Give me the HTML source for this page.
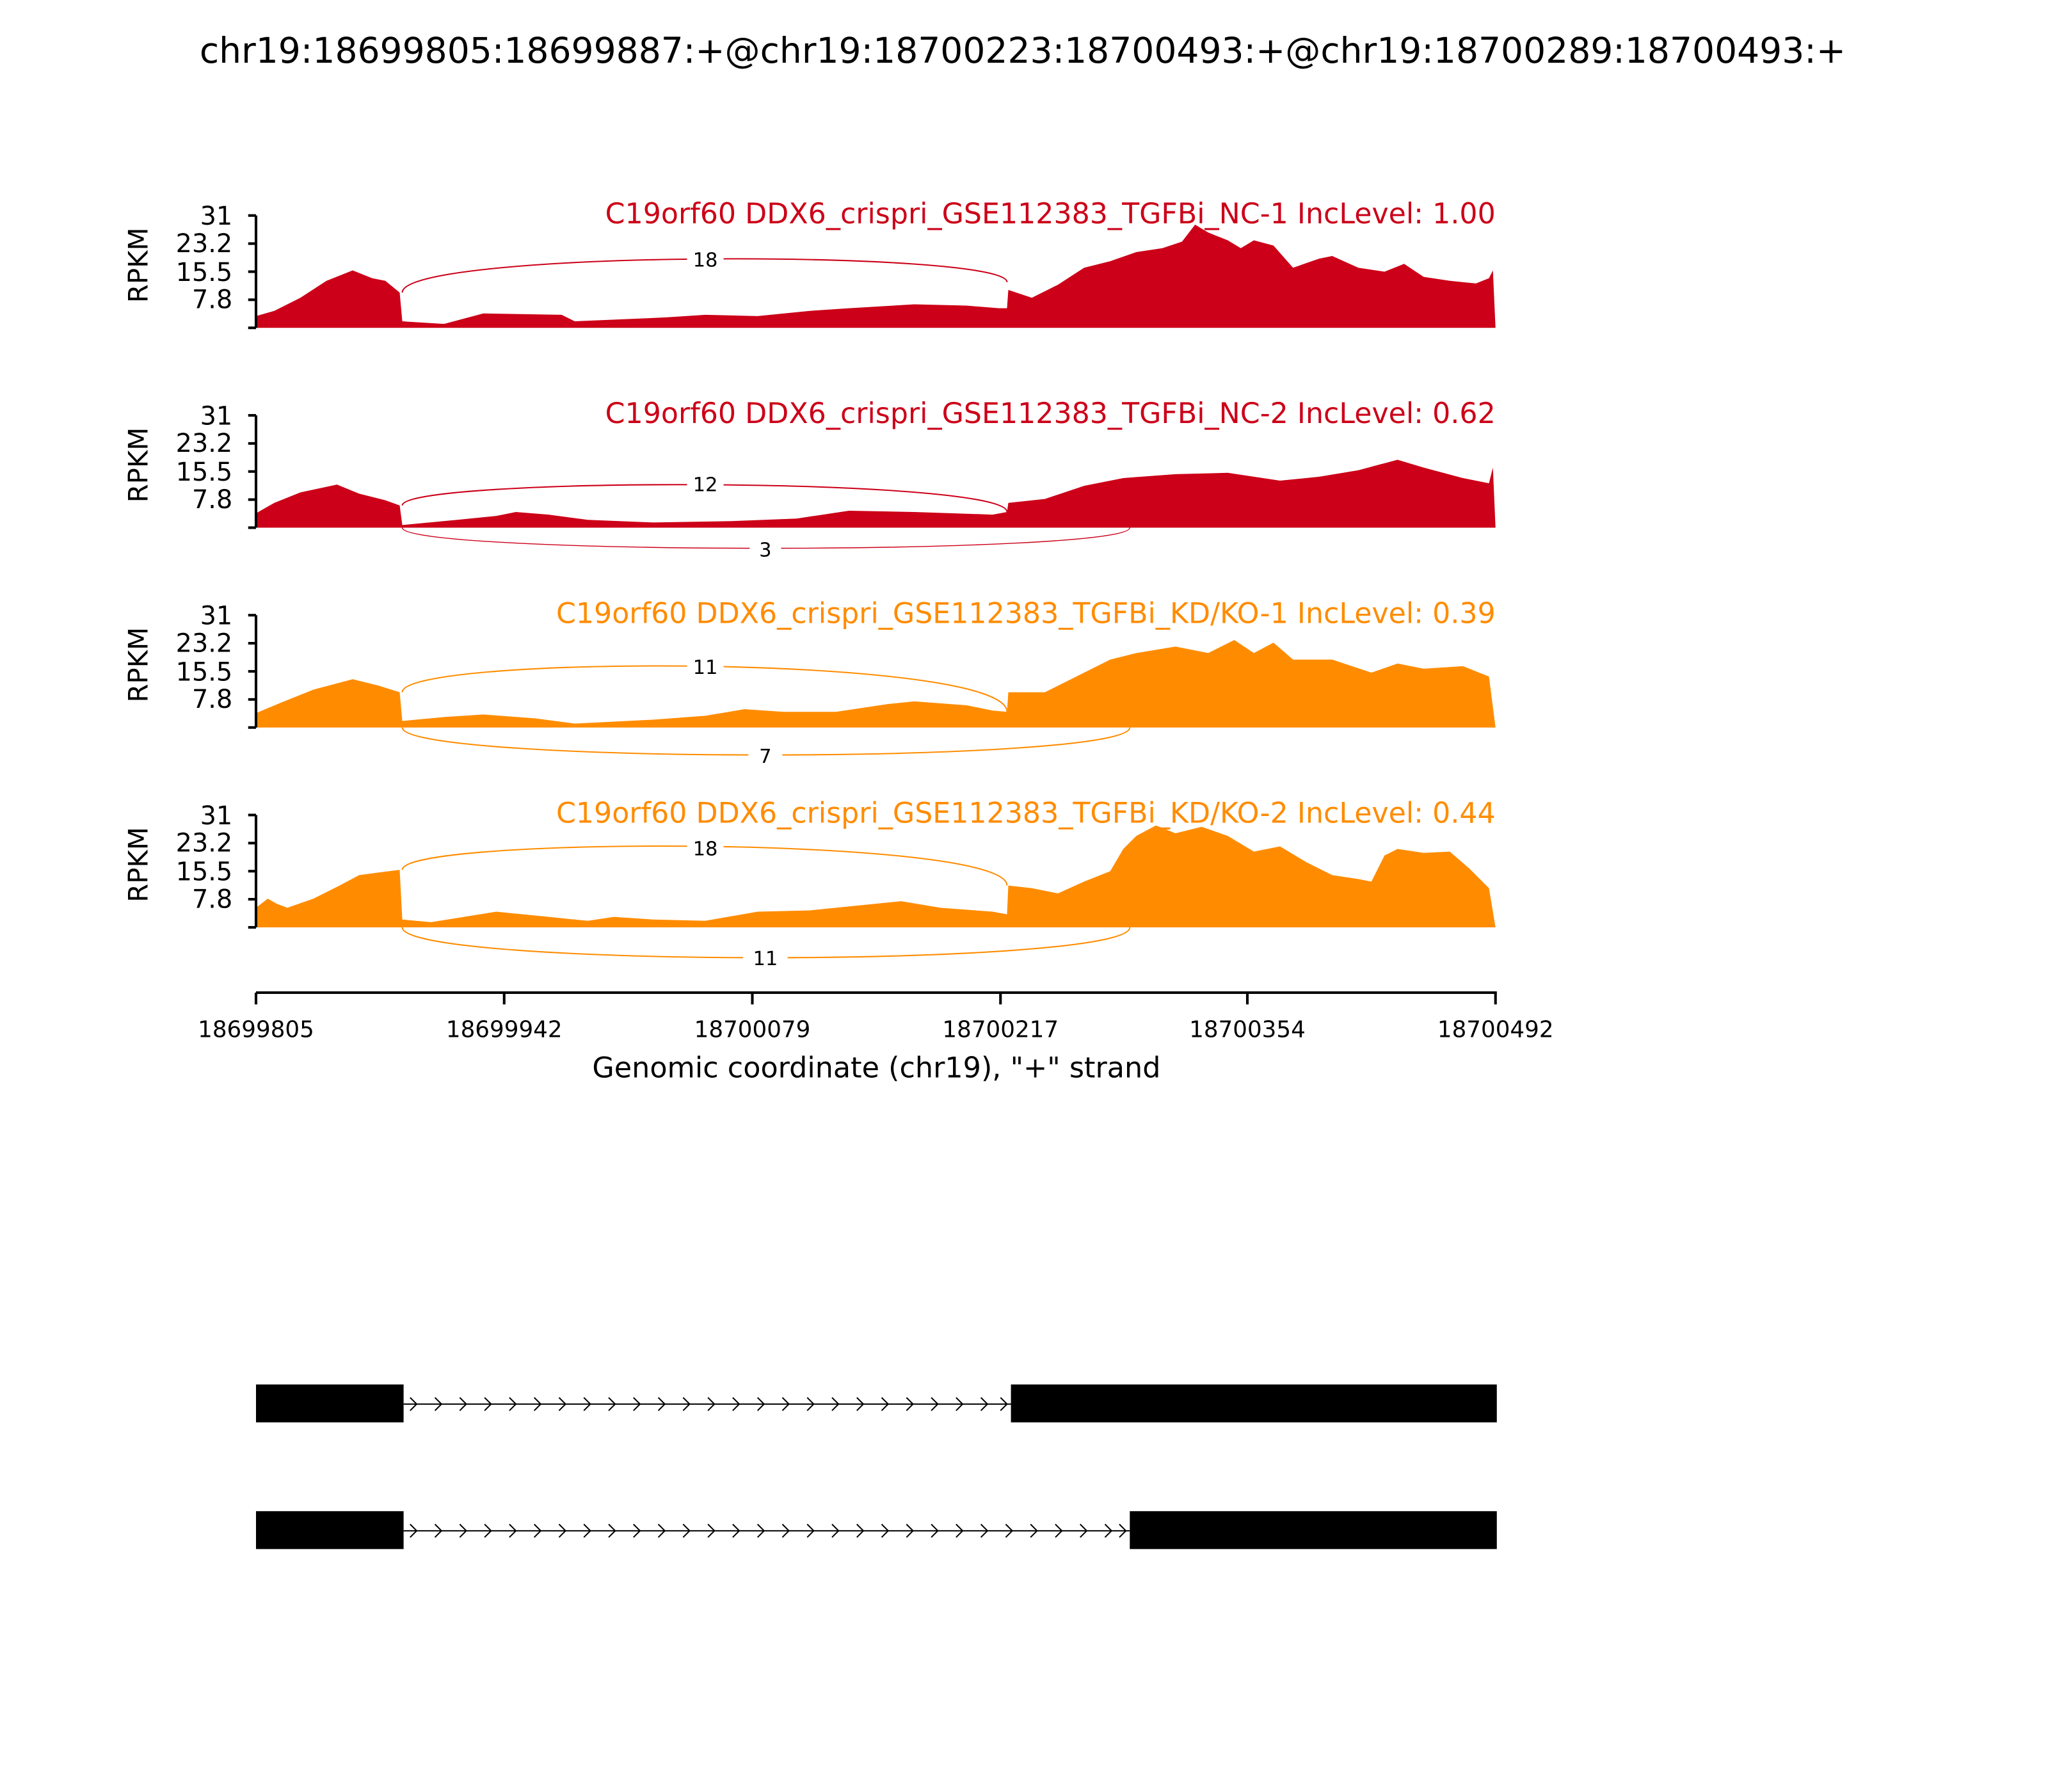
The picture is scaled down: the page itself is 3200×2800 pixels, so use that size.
<!DOCTYPE html>
<html><head><meta charset="utf-8"><style>
html,body{margin:0;padding:0;background:#fff;}
svg{display:block;}
text{font-family:"DejaVu Sans","Liberation Sans",sans-serif;}
</style></head><body>
<svg width="3200" height="2800" viewBox="0 0 1568 1372" xmlns="http://www.w3.org/2000/svg">
<rect width="1568" height="1372" fill="#fff"/>
<text x="783" y="48" font-size="27" text-anchor="middle">chr19:18699805:18699887:+@chr19:18700223:18700493:+@chr19:18700289:18700493:+</text>

<!-- Panel 1 -->
<g>
<polygon fill="#cc0018" points="196,251 196,242 210,238 230,228 250,215 270,207 285,213 295,215 306,224 308,246 340,248 370,240 430,241 440,246 510,243 540,241 580,242 620,238 650,236 700,233 740,234 765,236 771,236 772,222 790,228 810,218 830,205 850,200 870,193 890,190 905,185 915,172 925,178 940,184 950,190 960,184 975,188 990,205 1010,198 1020,196 1040,205 1060,208 1075,202 1090,212 1110,215 1130,217 1140,213 1143,207 1145,251"/>
<path d="M308,224 C308,191 771,191 771,216" fill="none" stroke="#cc0018" stroke-width="1"/>
<rect x="526" y="189" width="28" height="18" fill="#fff"/>
<text x="540" y="204" font-size="15" text-anchor="middle">18</text>
<text x="1145" y="171" font-size="21.7" fill="#cc0018" text-anchor="end">C19orf60 DDX6_crispri_GSE112383_TGFBi_NC-1 IncLevel: 1.00</text>
<g stroke="#000" stroke-width="2"><line x1="196" y1="165" x2="196" y2="251"/><line x1="190" y1="165" x2="196" y2="165"/><line x1="190" y1="186.5" x2="196" y2="186.5"/><line x1="190" y1="208" x2="196" y2="208"/><line x1="190" y1="229.5" x2="196" y2="229.5"/><line x1="190" y1="251" x2="196" y2="251"/></g>
<g font-size="19.5" text-anchor="end"><text x="178" y="172">31</text><text x="178" y="193">23.2</text><text x="178" y="215">15.5</text><text x="178" y="236">7.8</text></g>
<text transform="translate(113,203) rotate(-90)" font-size="20.5" text-anchor="middle">RPKM</text>
</g>

<!-- Panel 2 -->
<g>
<polygon fill="#cc0018" points="196,404 196,393 210,385 230,377 258,371 275,378 295,383 306,387 308,402 350,398 380,395 395,392 420,394 450,398 500,400 560,399 610,397 650,391 700,392 760,394 771,392 772,385 800,382 830,372 860,366 900,363 940,362 980,368 1010,365 1040,360 1070,352 1090,358 1120,366 1140,370 1143,358 1145,404"/>
<path d="M308,387 C308,365 771,365 771,392" fill="none" stroke="#cc0018" stroke-width="1"/>
<path d="M308,404 C308,425 865,425 865,404" fill="none" stroke="#cc0018" stroke-width="0.7"/>
<rect x="526" y="361" width="28" height="18" fill="#fff"/>
<text x="540" y="376" font-size="15" text-anchor="middle">12</text>
<rect x="574" y="411" width="24" height="18" fill="#fff"/>
<text x="586" y="426" font-size="15" text-anchor="middle">3</text>
<text x="1145" y="324" font-size="21.7" fill="#cc0018" text-anchor="end">C19orf60 DDX6_crispri_GSE112383_TGFBi_NC-2 IncLevel: 0.62</text>
<g stroke="#000" stroke-width="2"><line x1="196" y1="318" x2="196" y2="404"/><line x1="190" y1="318" x2="196" y2="318"/><line x1="190" y1="339.5" x2="196" y2="339.5"/><line x1="190" y1="361" x2="196" y2="361"/><line x1="190" y1="382.5" x2="196" y2="382.5"/><line x1="190" y1="404" x2="196" y2="404"/></g>
<g font-size="19.5" text-anchor="end"><text x="178" y="325">31</text><text x="178" y="346">23.2</text><text x="178" y="368">15.5</text><text x="178" y="389">7.8</text></g>
<text transform="translate(113,356) rotate(-90)" font-size="20.5" text-anchor="middle">RPKM</text>
</g>

<!-- Panel 3 -->
<g>
<polygon fill="#ff8c00" points="196,557 196,546 215,538 240,528 270,520 290,525 306,530 308,552 340,549 370,547 410,550 440,554 500,551 540,548 570,543 600,545 640,545 680,539 700,537 740,540 760,544 771,545 772,530 800,530 830,515 850,505 870,500 900,495 925,500 945,490 960,500 975,492 990,505 1020,505 1050,515 1070,508 1090,512 1120,510 1140,518 1145,557"/>
<path d="M308,530 C308,501 771,501 771,545" fill="none" stroke="#ff8c00" stroke-width="1"/>
<path d="M308,557 C308,585 865,585 865,557" fill="none" stroke="#ff8c00" stroke-width="1"/>
<rect x="526" y="501" width="28" height="18" fill="#fff"/>
<text x="540" y="516" font-size="15" text-anchor="middle">11</text>
<rect x="573" y="569" width="26" height="18" fill="#fff"/>
<text x="586" y="584" font-size="15" text-anchor="middle">7</text>
<text x="1145" y="477" font-size="21.7" fill="#ff8c00" text-anchor="end">C19orf60 DDX6_crispri_GSE112383_TGFBi_KD/KO-1 IncLevel: 0.39</text>
<g stroke="#000" stroke-width="2"><line x1="196" y1="471" x2="196" y2="557"/><line x1="190" y1="471" x2="196" y2="471"/><line x1="190" y1="492.5" x2="196" y2="492.5"/><line x1="190" y1="514" x2="196" y2="514"/><line x1="190" y1="535.5" x2="196" y2="535.5"/><line x1="190" y1="557" x2="196" y2="557"/></g>
<g font-size="19.5" text-anchor="end"><text x="178" y="478">31</text><text x="178" y="499">23.2</text><text x="178" y="521">15.5</text><text x="178" y="542">7.8</text></g>
<text transform="translate(113,509) rotate(-90)" font-size="20.5" text-anchor="middle">RPKM</text>
</g>

<!-- Panel 4 -->
<g>
<polygon fill="#ff8c00" points="196,710 196,695 205,688 212,692 220,695 240,688 260,678 275,670 290,668 306,666 308,704 330,706 380,698 420,702 450,705 470,702 500,704 540,705 580,698 620,697 660,693 690,690 720,695 760,698 771,700 772,678 790,680 810,684 830,675 850,667 860,650 870,640 885,632 900,638 920,633 940,640 960,652 980,648 1000,660 1020,670 1040,673 1050,675 1060,655 1070,650 1090,653 1110,652 1125,665 1140,680 1145,710"/>
<path d="M308,666 C308,640 771,640 771,678" fill="none" stroke="#ff8c00" stroke-width="1"/>
<path d="M308,710 C308,741 865,741 865,710" fill="none" stroke="#ff8c00" stroke-width="1"/>
<rect x="526" y="640" width="28" height="18" fill="#fff"/>
<text x="540" y="655" font-size="15" text-anchor="middle">18</text>
<rect x="569" y="724" width="34" height="18" fill="#fff"/>
<text x="586" y="739" font-size="15" text-anchor="middle">11</text>
<text x="1145" y="630" font-size="21.7" fill="#ff8c00" text-anchor="end">C19orf60 DDX6_crispri_GSE112383_TGFBi_KD/KO-2 IncLevel: 0.44</text>
<g stroke="#000" stroke-width="2"><line x1="196" y1="624" x2="196" y2="710"/><line x1="190" y1="624" x2="196" y2="624"/><line x1="190" y1="645.5" x2="196" y2="645.5"/><line x1="190" y1="667" x2="196" y2="667"/><line x1="190" y1="688.5" x2="196" y2="688.5"/><line x1="190" y1="710" x2="196" y2="710"/></g>
<g font-size="19.5" text-anchor="end"><text x="178" y="631">31</text><text x="178" y="652">23.2</text><text x="178" y="674">15.5</text><text x="178" y="695">7.8</text></g>
<text transform="translate(113,662) rotate(-90)" font-size="20.5" text-anchor="middle">RPKM</text>
</g>

<!-- X axis -->
<g stroke="#000" stroke-width="2">
<line x1="196" y1="760" x2="1146" y2="760"/>
<line x1="196" y1="760" x2="196" y2="769"/><line x1="386" y1="760" x2="386" y2="769"/><line x1="576" y1="760" x2="576" y2="769"/><line x1="766" y1="760" x2="766" y2="769"/><line x1="955" y1="760" x2="955" y2="769"/><line x1="1145" y1="760" x2="1145" y2="769"/>
</g>
<g font-size="17.5" text-anchor="middle">
<text x="196" y="794">18699805</text><text x="386" y="794">18699942</text><text x="576" y="794">18700079</text><text x="766" y="794">18700217</text><text x="955" y="794">18700354</text><text x="1145" y="794">18700492</text>
</g>
<text x="671" y="825" font-size="21.8" text-anchor="middle">Genomic coordinate (chr19), "+" strand</text>

<!-- Gene models -->
<rect x="196" y="1060" width="113" height="29" fill="#000"/>
<rect x="774" y="1060" width="372" height="29" fill="#000"/>
<line x1="309" y1="1075" x2="774" y2="1075" stroke="#000" stroke-width="1"/>
<path fill="none" stroke="#000" stroke-width="1" d="M314,1070 l5,5 l-5,5 M333,1070 l5,5 l-5,5 M352,1070 l5,5 l-5,5 M371,1070 l5,5 l-5,5 M390,1070 l5,5 l-5,5 M409,1070 l5,5 l-5,5 M428,1070 l5,5 l-5,5 M447,1070 l5,5 l-5,5 M466,1070 l5,5 l-5,5 M485,1070 l5,5 l-5,5 M504,1070 l5,5 l-5,5 M523,1070 l5,5 l-5,5 M542,1070 l5,5 l-5,5 M561,1070 l5,5 l-5,5 M580,1070 l5,5 l-5,5 M599,1070 l5,5 l-5,5 M618,1070 l5,5 l-5,5 M637,1070 l5,5 l-5,5 M656,1070 l5,5 l-5,5 M675,1070 l5,5 l-5,5 M694,1070 l5,5 l-5,5 M713,1070 l5,5 l-5,5 M732,1070 l5,5 l-5,5 M751,1070 l5,5 l-5,5 M766,1070 l5,5 l-5,5"/>
<rect x="196" y="1157" width="113" height="29" fill="#000"/>
<rect x="865" y="1157" width="281" height="29" fill="#000"/>
<line x1="309" y1="1172" x2="865" y2="1172" stroke="#000" stroke-width="1"/>
<path fill="none" stroke="#000" stroke-width="1" d="M314,1167 l5,5 l-5,5 M333,1167 l5,5 l-5,5 M352,1167 l5,5 l-5,5 M371,1167 l5,5 l-5,5 M390,1167 l5,5 l-5,5 M409,1167 l5,5 l-5,5 M428,1167 l5,5 l-5,5 M447,1167 l5,5 l-5,5 M466,1167 l5,5 l-5,5 M485,1167 l5,5 l-5,5 M504,1167 l5,5 l-5,5 M523,1167 l5,5 l-5,5 M542,1167 l5,5 l-5,5 M561,1167 l5,5 l-5,5 M580,1167 l5,5 l-5,5 M599,1167 l5,5 l-5,5 M618,1167 l5,5 l-5,5 M637,1167 l5,5 l-5,5 M656,1167 l5,5 l-5,5 M675,1167 l5,5 l-5,5 M694,1167 l5,5 l-5,5 M713,1167 l5,5 l-5,5 M732,1167 l5,5 l-5,5 M751,1167 l5,5 l-5,5 M770,1167 l5,5 l-5,5 M789,1167 l5,5 l-5,5 M808,1167 l5,5 l-5,5 M827,1167 l5,5 l-5,5 M846,1167 l5,5 l-5,5 M857,1167 l5,5 l-5,5"/>
</svg>
</body></html>
